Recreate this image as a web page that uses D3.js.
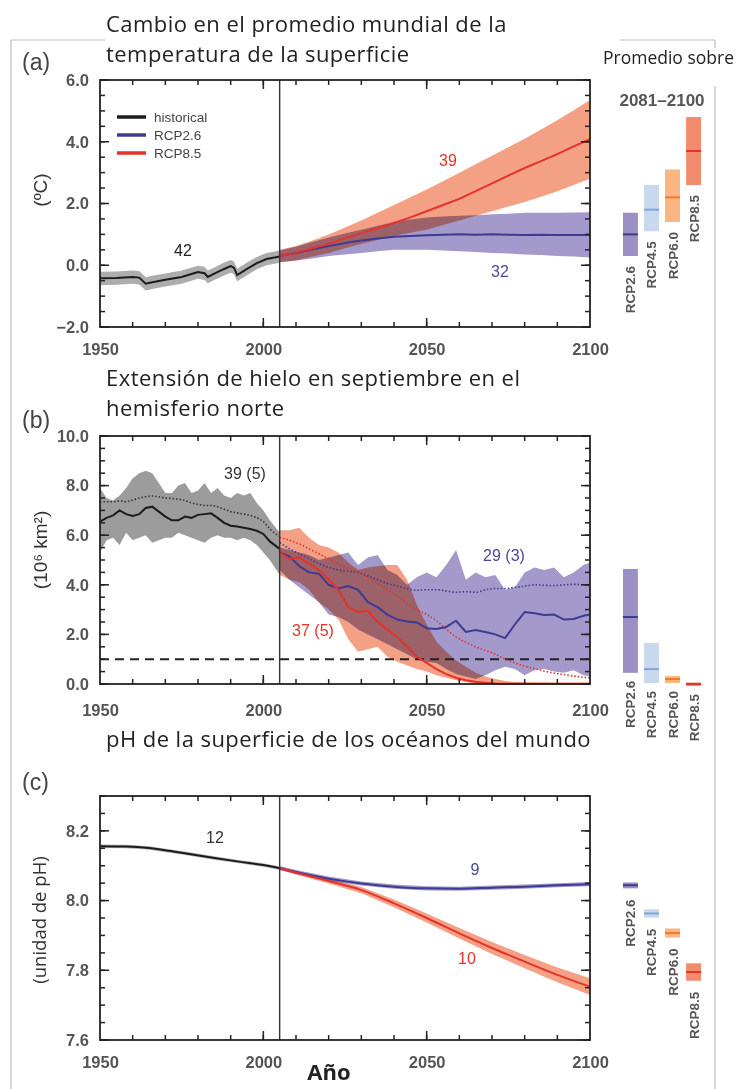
<!DOCTYPE html>
<meta charset="utf-8">
<script src="https://d3js.org/d3.v7.min.js"></script>
<style>
  body { margin: 0; background: #fff; }
  .ax text { font-family: "Liberation Sans", Arial, sans-serif; font-size: 16.5px; font-weight: bold; fill: #555; }
</style>
<div id="chart"></div>
<script>

// ---------- data ----------
var scenarios = ["RCP2.6", "RCP4.5", "RCP6.0", "RCP8.5"];
var xTicks = [1950, 2000, 2050, 2100];

// (a) global mean surface temperature change
var tempHistYears = [1950, 1955, 1960, 1962, 1964, 1966, 1970, 1975, 1980, 1982, 1983, 1985, 1988, 1990, 1991, 1992, 1995, 1998, 2001, 2005];
var tempHistMean  = [-0.42, -0.41, -0.38, -0.40, -0.60, -0.55, -0.47, -0.38, -0.22, -0.26, -0.38, -0.27, -0.12, -0.03, -0.08, -0.32, -0.12, 0.07, 0.20, 0.28];
var tempHistLo    = [-0.65, -0.63, -0.60, -0.62, -0.82, -0.77, -0.69, -0.60, -0.44, -0.48, -0.58, -0.48, -0.33, -0.24, -0.29, -0.52, -0.32, -0.13, 0.00, 0.08];
var tempHistHi    = [-0.21, -0.20, -0.17, -0.19, -0.39, -0.34, -0.27, -0.17, -0.02, -0.05, -0.17, -0.07, 0.09, 0.17, 0.12, -0.11, 0.09, 0.27, 0.40, 0.48];

var tempProjYears = [2005, 2010, 2015, 2020, 2025, 2030, 2035, 2040, 2045, 2050, 2055, 2060, 2065, 2070, 2075, 2080, 2085, 2090, 2095, 2100];
var tempRcp85Mean = [0.30, 0.40, 0.55, 0.70, 0.87, 1.04, 1.20, 1.37, 1.55, 1.75, 1.95, 2.15, 2.40, 2.65, 2.90, 3.15, 3.37, 3.60, 3.85, 4.08];
var tempRcp85Hi   = [0.50, 0.62, 0.80, 1.00, 1.22, 1.45, 1.70, 1.95, 2.20, 2.45, 2.72, 3.00, 3.27, 3.55, 3.82, 4.10, 4.40, 4.70, 5.02, 5.35];
var tempRcp85Lo   = [0.10, 0.15, 0.28, 0.40, 0.55, 0.70, 0.82, 0.95, 1.05, 1.15, 1.30, 1.45, 1.60, 1.75, 1.90, 2.05, 2.22, 2.40, 2.60, 2.80];
var tempRcp26Mean = [0.30, 0.40, 0.52, 0.62, 0.72, 0.80, 0.87, 0.92, 0.95, 0.97, 0.99, 1.00, 0.99, 1.00, 0.99, 0.98, 0.99, 0.98, 0.98, 0.98];
var tempRcp26Hi   = [0.48, 0.60, 0.75, 0.90, 1.03, 1.15, 1.28, 1.40, 1.48, 1.55, 1.58, 1.60, 1.62, 1.65, 1.67, 1.70, 1.70, 1.70, 1.71, 1.72];
var tempRcp26Lo   = [0.10, 0.15, 0.22, 0.30, 0.35, 0.40, 0.45, 0.50, 0.50, 0.50, 0.48, 0.45, 0.43, 0.40, 0.38, 0.35, 0.33, 0.30, 0.28, 0.25];

var tempBarLo   = [0.3, 1.1, 1.4, 2.6];
var tempBarMean = [1.0, 1.8, 2.2, 3.7];
var tempBarHi   = [1.7, 2.6, 3.1, 4.8];

// (b) northern hemisphere september sea ice extent
var iceHistYears = [1950, 1952, 1954, 1956, 1958, 1960, 1962, 1964, 1966, 1968, 1970, 1972, 1974, 1976, 1978, 1980, 1982, 1984, 1986, 1988, 1990, 1992, 1994, 1996, 1998, 2000, 2002, 2005];
var iceHistMean  = [6.55, 6.70, 6.80, 7.00, 6.85, 6.78, 6.85, 7.10, 7.15, 6.95, 6.75, 6.60, 6.60, 6.75, 6.70, 6.82, 6.85, 6.88, 6.70, 6.50, 6.38, 6.35, 6.30, 6.25, 6.18, 6.05, 5.75, 5.45];
var iceHistObs   = [7.35, 7.35, 7.35, 7.38, 7.35, 7.42, 7.50, 7.55, 7.58, 7.55, 7.50, 7.48, 7.45, 7.40, 7.30, 7.25, 7.20, 7.20, 7.15, 7.05, 6.95, 6.90, 6.85, 6.80, 6.70, 6.55, 6.25, 5.95];
var iceHistHi    = [7.90, 7.50, 7.40, 7.60, 7.90, 8.30, 8.50, 8.60, 8.50, 8.10, 7.70, 7.70, 8.00, 8.10, 7.70, 7.80, 8.10, 7.70, 7.90, 7.60, 7.50, 7.70, 7.60, 7.70, 7.30, 7.00, 6.60, 6.10];
var iceHistLo    = [5.30, 5.80, 5.90, 5.60, 6.10, 5.80, 5.90, 6.00, 5.70, 5.80, 5.90, 5.90, 6.10, 6.00, 5.90, 5.80, 5.70, 5.90, 6.00, 5.90, 5.90, 5.80, 5.90, 5.80, 5.60, 5.30, 5.00, 4.40];

var iceProjYears = [2005, 2008, 2011, 2014, 2017, 2020, 2023, 2026, 2029, 2032, 2035, 2038, 2041, 2044, 2047, 2050, 2053, 2056, 2059, 2062, 2065, 2068, 2071, 2074, 2077, 2080, 2083, 2086, 2089, 2092, 2095, 2098, 2100];
var iceRcp26Mean = [5.30, 5.15, 4.75, 4.50, 4.45, 4.00, 3.85, 3.95, 3.80, 3.30, 3.10, 2.80, 2.60, 2.52, 2.48, 2.25, 2.22, 2.30, 2.55, 2.10, 2.18, 2.10, 2.00, 1.85, 2.40, 2.90, 2.85, 2.78, 2.80, 2.60, 2.62, 2.75, 2.80];
var iceRcp26Hi   = [5.50, 5.40, 5.30, 5.20, 5.00, 5.10, 5.20, 5.30, 4.80, 5.10, 5.20, 4.60, 4.40, 4.00, 4.30, 4.50, 4.30, 4.80, 5.40, 4.20, 4.50, 4.30, 4.40, 3.80, 3.90, 4.50, 4.70, 4.60, 4.70, 4.30, 4.50, 4.80, 4.90];
var iceRcp26Lo   = [4.60, 4.20, 3.90, 3.60, 3.30, 2.80, 2.70, 2.50, 2.20, 2.00, 1.80, 1.60, 1.40, 1.20, 1.00, 0.90, 0.85, 0.60, 0.40, 0.30, 0.20, 0.35, 0.55, 0.70, 0.60, 0.35, 0.55, 0.60, 0.50, 0.45, 0.55, 0.35, 0.30];
var iceRcp26Obs  = [5.70, 5.45, 5.25, 5.05, 4.85, 4.70, 4.60, 4.55, 4.50, 4.35, 4.20, 4.05, 3.95, 3.85, 3.78, 3.80, 3.80, 3.75, 3.70, 3.72, 3.70, 3.80, 3.85, 3.85, 3.90, 3.95, 4.00, 3.98, 3.97, 4.00, 4.02, 4.00, 4.00];
var iceRcp85Mean = [5.30, 5.05, 5.10, 4.85, 4.60, 4.20, 3.80, 3.10, 2.90, 2.95, 2.50, 2.20, 1.90, 1.50, 1.10, 0.85, 0.60, 0.40, 0.25, 0.15, 0.09, 0.05, 0.02, 0.01, 0.01, 0.01, 0.01, 0.01, 0.01, 0.01, 0.01, 0.01, 0.01];
var iceRcp85Hi   = [6.20, 6.20, 6.30, 5.90, 5.60, 5.50, 5.30, 4.90, 4.60, 4.70, 4.75, 4.80, 4.80, 4.20, 3.20, 2.40, 1.70, 1.30, 0.95, 0.70, 0.45, 0.30, 0.20, 0.12, 0.08, 0.07, 0.06, 0.06, 0.05, 0.05, 0.05, 0.05, 0.05];
var iceRcp85Lo   = [4.40, 4.20, 4.10, 3.80, 3.30, 3.00, 2.60, 1.80, 1.30, 1.40, 1.50, 1.10, 0.90, 0.75, 0.60, 0.50, 0.35, 0.25, 0.15, 0.08, 0.00, 0.00, 0.00, 0.00, 0.00, 0.00, 0.00, 0.00, 0.00, 0.00, 0.00, 0.00, 0.00];
var iceRcp85Obs  = [5.90, 5.80, 5.65, 5.45, 5.25, 5.05, 4.85, 4.65, 4.50, 4.30, 4.05, 3.80, 3.55, 3.25, 3.00, 2.80, 2.55, 2.20, 1.90, 1.68, 1.50, 1.35, 1.20, 1.00, 0.85, 0.72, 0.62, 0.52, 0.44, 0.38, 0.32, 0.27, 0.25];
var iceThreshold = 1.0;

var iceBarLo   = [0.45, 0.04, 0.04, -0.08];
var iceBarMean = [2.70, 0.60, 0.20, 0.00];
var iceBarHi   = [4.64, 1.65, 0.32, 0.06];

// (c) global ocean surface pH
var phHistYears = [1950, 1958, 1965, 1975, 1985, 1993, 2000, 2005];
var phHistMean  = [8.156, 8.155, 8.151, 8.137, 8.122, 8.111, 8.102, 8.093];
var phProjYears = [2005, 2010, 2020, 2030, 2040, 2050, 2060, 2070, 2080, 2090, 2100];
var phRcp26Mean = [8.093, 8.082, 8.063, 8.049, 8.040, 8.035, 8.034, 8.037, 8.040, 8.044, 8.047];
var phRcp85Mean = [8.093, 8.080, 8.056, 8.030, 7.992, 7.950, 7.906, 7.864, 7.825, 7.787, 7.753];
var phRcp85Half = [0.004, 0.005, 0.007, 0.009, 0.011, 0.013, 0.015, 0.017, 0.019, 0.021, 0.024];

var phBarLo   = [8.035, 7.951, 7.894, 7.770];
var phBarMean = [8.044, 7.963, 7.907, 7.795];
var phBarHi   = [8.052, 7.975, 7.920, 7.820];

// ---------- styles ----------
var colHist = "#1c1c1c", col26 = "#3d3b92", col85 = "#e5322b";
var band26 = "#a39acb", band85 = "#f4a084";
var barFill = { "RCP2.6": "#9b90c3", "RCP4.5": "#c8d8ee", "RCP6.0": "#f9b682", "RCP8.5": "#f08b6d" };
var barLine = { "RCP2.6": "#3e3a8e", "RCP4.5": "#7fa6d8", "RCP6.0": "#ef7d2a", "RCP8.5": "#e2342b" };
var sans = "Liberation Sans, Arial, sans-serif";

var W = 744, H = 1089;
var svg = d3.select("#chart").append("svg").attr("width", W).attr("height", H);
svg.append("rect").attr("width", W).attr("height", H).attr("fill", "#fff");

var x = d3.scaleLinear().domain([1950, 2100]).range([100, 590]);
var xb = d3.scaleBand().domain(scenarios).range([620, 704]).paddingInner(0.29).paddingOuter(0.14);

// outer grey frame
var frame = svg.append("g").attr("stroke", "#bdbdbd").attr("stroke-width", 1.2);
frame.append("line").attr("x1", 11).attr("x2", 11).attr("y1", 40).attr("y2", H);
frame.append("line").attr("x1", 11).attr("x2", 105).attr("y1", 40).attr("y2", 40);
frame.append("line").attr("x1", 620).attr("x2", 715).attr("y1", 40).attr("y2", 40);
frame.append("line").attr("x1", 715).attr("x2", 715).attr("y1", 40).attr("y2", 48);
frame.append("line").attr("x1", 715).attr("x2", 715).attr("y1", 86).attr("y2", H);

function zip(xs, ys) { return xs.map(function(d, i) { return [d, ys[i]]; }); }
function zip3(xs, lo, hi) { return xs.map(function(d, i) { return [d, lo[i], hi[i]]; }); }

function drawPanel(p) {
  var y = d3.scaleLinear().domain(p.yDomain).range([p.bottom, p.top]);
  var g = svg.append("g");

  // panel letter and y label
  g.append("text").attr("x", 22).attr("y", p.letterY).text(p.letter)
    .attr("font-family", sans).attr("font-size", 23).attr("fill", "#444");
  g.append("text")
    .attr("transform", "translate(" + p.yLabelX + "," + p.yLabelY + ") rotate(-90)")
    .attr("text-anchor", "middle").text(p.yLabel)
    .attr("font-family", p.yLabelFont).attr("font-size", p.yLabelSize).attr("fill", "#333");

  // title lines
  p.title.forEach(function(t, i) {
    g.append("text").attr("x", 106).attr("y", p.titleY + i * 30).text(t)
      .attr("font-family", "Open Sans, sans-serif").attr("font-size", 22)
      .attr("letter-spacing", 0.45).attr("fill", "#222");
  });

  p.y = y;
  p.plot = g.append("g");
  p.axes = g.append("g");
  return p;
}

function axes(p) {
  var g = p.axes, y = p.y;
  var minorX = d3.range(1960, 2100, 10);
  var minorY = d3.range(p.yDomain[0], p.yDomain[1] + 1e-9, p.minorStep);

  // labels from d3 axes (no tick lines)
  g.append("g").attr("class", "ax").attr("transform", "translate(0," + p.bottom + ")")
    .call(d3.axisBottom(x).tickValues(xTicks).tickSize(0).tickPadding(p.xPad).tickFormat(d3.format("d")));
  g.append("g").attr("class", "ax").attr("transform", "translate(100,0)")
    .call(d3.axisLeft(y).tickValues(p.yMajor).tickSize(0).tickPadding(11).tickFormat(d3.format(p.fmt)));
  g.selectAll(".domain").remove();

  // inward tick marks on all four sides
  var t = g.append("g").attr("stroke", "#222").attr("stroke-width", 1.5);
  function xt(vals, len) {
    vals.forEach(function(v) {
      t.append("line").attr("x1", x(v)).attr("x2", x(v)).attr("y1", p.bottom).attr("y2", p.bottom - len);
      t.append("line").attr("x1", x(v)).attr("x2", x(v)).attr("y1", p.top).attr("y2", p.top + len);
    });
  }
  function yt(vals, len) {
    vals.forEach(function(v) {
      t.append("line").attr("x1", 100).attr("x2", 100 + len).attr("y1", y(v)).attr("y2", y(v));
      t.append("line").attr("x1", 590).attr("x2", 590 - len).attr("y1", y(v)).attr("y2", y(v));
    });
  }
  xt(minorX, 5);
  xt([2000, 2050], 9);
  yt(minorY, 5);
  yt(p.yMajor, 9);

  g.append("line").attr("x1", x(2005)).attr("x2", x(2005)).attr("y1", p.top).attr("y2", p.bottom)
    .attr("stroke", "#333").attr("stroke-width", 1.4);
  g.append("rect").attr("x", 100).attr("y", p.top).attr("width", 490).attr("height", p.bottom - p.top)
    .attr("fill", "none").attr("stroke", "#222").attr("stroke-width", 1.8);
}

function band(p, rows, color) {
  p.plot.append("path").datum(rows)
    .attr("fill", color)
    .style("mix-blend-mode", "multiply")
    .attr("d", d3.area().x(function(d) { return x(d[0]); })
      .y0(function(d) { return p.y(d[1]); }).y1(function(d) { return p.y(d[2]); }));
}
function line(p, rows, color, width, dash, curve) {
  p.plot.append("path").datum(rows)
    .attr("fill", "none").attr("stroke", color).attr("stroke-width", width)
    .attr("stroke-dasharray", dash || null)
    .attr("d", d3.line().curve(curve || d3.curveLinear)
      .x(function(d) { return x(d[0]); }).y(function(d) { return p.y(d[1]); }));
}
function label(p, txt, px, py, color) {
  p.plot.append("text").attr("x", px).attr("y", py).attr("dy", "0.35em")
    .attr("text-anchor", "middle").text(txt)
    .attr("font-family", sans).attr("font-size", 16).attr("fill", color);
}
function bars(p, lo, mid, hi, labelGap) {
  var g = svg.append("g");
  scenarios.forEach(function(s, i) {
    var y0 = p.y(lo[i]), y1 = p.y(hi[i]);
    g.append("rect").attr("x", xb(s)).attr("y", y1).attr("width", xb.bandwidth())
      .attr("height", Math.max(y0 - y1, 2)).attr("fill", barFill[s]);
    g.append("line").attr("x1", xb(s)).attr("x2", xb(s) + xb.bandwidth())
      .attr("y1", p.y(mid[i])).attr("y2", p.y(mid[i]))
      .attr("stroke", barLine[s]).attr("stroke-width", 2);
    g.append("text")
      .attr("transform", "translate(" + (xb(s) + xb.bandwidth() / 2 + 5) + "," + (Math.max(y0, y1 + 2) + labelGap) + ") rotate(-90)")
      .attr("text-anchor", "end").text(s)
      .attr("font-family", sans).attr("font-weight", "bold").attr("font-size", 13.5).attr("fill", "#555");
  });
}

// ---------- panel (a) ----------
var pa = drawPanel({
  letter: "(a)", letterY: 70, top: 80, bottom: 327, yDomain: [-2, 6], yMajor: [-2, 0, 2, 4, 6],
  minorStep: 0.5, fmt: ".1f", xPad: 16,
  yLabel: "(ºC)", yLabelX: 47, yLabelY: 190, yLabelFont: sans, yLabelSize: 19,
  title: ["Cambio en el promedio mundial de la", "temperatura de la superficie"], titleY: 32
});
band(pa, zip3(tempHistYears, tempHistLo, tempHistHi), "#adadad");
band(pa, zip3(tempProjYears, tempRcp85Lo, tempRcp85Hi), band85);
band(pa, zip3(tempProjYears, tempRcp26Lo, tempRcp26Hi), band26);
line(pa, zip(tempHistYears, tempHistMean), colHist, 2);
line(pa, zip(tempProjYears, tempRcp26Mean), col26, 2);
line(pa, zip(tempProjYears, tempRcp85Mean), col85, 2);
axes(pa);
label(pa, "42", 183, 250, "#222");
label(pa, "39", 448, 160, col85);
label(pa, "32", 500, 271, "#4a48a0");

// legend
var legend = [["historical", colHist], ["RCP2.6", col26], ["RCP8.5", col85]];
legend.forEach(function(l, i) {
  svg.append("line").attr("x1", 117).attr("x2", 146).attr("y1", 117 + i * 18).attr("y2", 117 + i * 18)
    .attr("stroke", l[1]).attr("stroke-width", 3.5);
  svg.append("text").attr("x", 154).attr("y", 117 + i * 18).attr("dy", "0.35em").text(l[0])
    .attr("font-family", sans).attr("font-size", 13.5).attr("fill", "#444");
});

svg.append("text").attr("x", 603).attr("y", 64).text("Promedio sobre")
  .attr("font-family", "Open Sans, sans-serif").attr("font-size", 17.5).attr("fill", "#222");
svg.append("text").attr("x", 662).attr("y", 106).attr("text-anchor", "middle").text("2081–2100")
  .attr("font-family", sans).attr("font-weight", "bold").attr("font-size", 17).attr("fill", "#555");
bars(pa, tempBarLo, tempBarMean, tempBarHi, 10);

// ---------- panel (b) ----------
var pb = drawPanel({
  letter: "(b)", letterY: 428, top: 436, bottom: 684, yDomain: [0, 10], yMajor: [0, 2, 4, 6, 8, 10],
  minorStep: 0.5, fmt: ".1f", xPad: 20,
  yLabel: "(10⁶ km²)", yLabelX: 47, yLabelY: 550, yLabelFont: sans, yLabelSize: 19,
  title: ["Extensión de hielo en septiembre en el", "hemisferio norte"], titleY: 386
});
band(pb, zip3(iceHistYears, iceHistLo, iceHistHi), "#9c9c9c");
band(pb, zip3(iceProjYears, iceRcp85Lo, iceRcp85Hi), band85);
band(pb, zip3(iceProjYears, iceRcp26Lo, iceRcp26Hi), band26);
pb.plot.append("line").attr("x1", x(1950)).attr("x2", x(2100))
  .attr("y1", pb.y(iceThreshold)).attr("y2", pb.y(iceThreshold))
  .attr("stroke", "#222").attr("stroke-width", 2).attr("stroke-dasharray", "9,6");
line(pb, zip(iceHistYears, iceHistObs), "#333", 1.6, "1.5,2", d3.curveMonotoneX);
line(pb, zip(iceProjYears, iceRcp26Obs), col26, 1.6, "1.5,2", d3.curveMonotoneX);
line(pb, zip(iceProjYears, iceRcp85Obs), col85, 1.6, "1.5,2", d3.curveMonotoneX);
line(pb, zip(iceHistYears, iceHistMean), colHist, 2);
line(pb, zip(iceProjYears, iceRcp26Mean), col26, 2);
line(pb, zip(iceProjYears, iceRcp85Mean), col85, 2);
axes(pb);
label(pb, "39 (5)", 245, 473, "#333");
label(pb, "37 (5)", 313, 630, col85);
label(pb, "29 (3)", 504, 555, "#4a48a0");
bars(pb, iceBarLo, iceBarMean, iceBarHi, 8);

// ---------- panel (c) ----------
var pc = drawPanel({
  letter: "(c)", letterY: 790, top: 796, bottom: 1040, yDomain: [7.6, 8.3], yMajor: [7.6, 7.8, 8.0, 8.2],
  minorStep: 0.05, fmt: ".1f", xPad: 16,
  yLabel: "(unidad de pH)", yLabelX: 46, yLabelY: 920, yLabelFont: "Open Sans, sans-serif", yLabelSize: 18.5,
  title: ["pH de la superficie de los océanos del mundo"], titleY: 747
});
band(pc, phHistYears.map(function(d, i) { return [d, phHistMean[i] - 0.005, phHistMean[i] + 0.005]; }), "#b5b5b5");
band(pc, phProjYears.map(function(d, i) { return [d, phRcp85Mean[i] - phRcp85Half[i], phRcp85Mean[i] + phRcp85Half[i]]; }), band85);
band(pc, phProjYears.map(function(d, i) { return [d, phRcp26Mean[i] - 0.006, phRcp26Mean[i] + 0.006]; }), band26);
line(pc, zip(phHistYears, phHistMean), colHist, 2, null, d3.curveMonotoneX);
line(pc, zip(phProjYears, phRcp26Mean), col26, 2, null, d3.curveMonotoneX);
line(pc, zip(phProjYears, phRcp85Mean), col85, 2, null, d3.curveMonotoneX);
axes(pc);
label(pc, "12", 215, 837, "#333");
label(pc, "9", 475, 869, "#4a48a0");
label(pc, "10", 467, 958, col85);
bars(pc, phBarLo, phBarMean, phBarHi, 11);

svg.append("text").attr("x", 329).attr("y", 1080).attr("text-anchor", "middle").text("Año")
  .attr("font-family", "Open Sans, sans-serif").attr("font-weight", "bold").attr("font-size", 22).attr("fill", "#222");

</script>
